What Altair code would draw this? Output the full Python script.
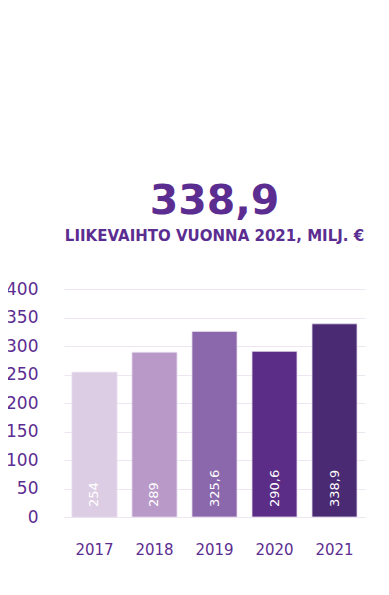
import altair as alt
import pandas as pd

years = ["2017", "2018", "2019", "2020", "2021"]
values = [254, 289, 325.6, 290.6, 338.9]
labels = ["254", "289", "325,6", "290,6", "338,9"]
colors = ["#ddcde4", "#b899c8", "#8a68ab", "#5b2d86", "#4a2a72"]
ticks = [0, 50, 100, 150, 200, 250, 300, 350, 400]

df = pd.DataFrame({"year": years, "value": values, "label": labels})
PURPLE = "#5c2d91"
FONT = "DejaVu Sans"

y_axis = alt.Axis(title=None, values=ticks, labelFontSize=17, labelColor=PURPLE,
                  labelFont=FONT, labelOverlap=False, labelPadding=26, domain=False,
                  ticks=False, gridColor="#ede6f1", gridWidth=1)
y_scale = alt.Scale(domain=[0, 400])

base = alt.Chart(df).encode(
    x=alt.X("year:N", sort=years,
            scale=alt.Scale(paddingInner=0.25, paddingOuter=0.133),
            axis=alt.Axis(title=None, labelAngle=0, labelFontSize=15, labelColor=PURPLE,
                          labelFont=FONT, labelPadding=25, domain=False, ticks=False,
                          labelBaseline="top")),
)

bars = base.mark_bar(stroke="#e6dcee", strokeWidth=0.8).encode(
    y=alt.Y("value:Q", scale=y_scale, axis=y_axis),
    color=alt.Color("year:N", scale=alt.Scale(domain=years, range=colors), legend=None),
)

texts = base.transform_calculate(zero="0").mark_text(
    angle=270, align="left", baseline="middle", color="white",
    fontSize=13, font=FONT, dx=10).encode(
    y=alt.Y("zero:Q", scale=y_scale, axis=y_axis),
    text="label:N",
)

chart = alt.layer(bars, texts).properties(
    width=301, height=228,
    autosize=alt.AutoSizeParams(type="none"),
    padding={"left": 56, "top": 281, "right": 16, "bottom": 60},
    title=alt.TitleParams(
        text="338,9", subtitle="LIIKEVAIHTO VUONNA 2021, MILJ. €",
        font=FONT, fontSize=41, fontWeight="bold", color=PURPLE,
        subtitleFont=FONT, subtitleFontSize=15, subtitleFontWeight="bold",
        subtitleColor=PURPLE, subtitlePadding=6, anchor="middle", offset=35,
    ),
).configure_view(stroke=None)

chart.save("out.html", embed_options={"renderer": "svg", "actions": False})
